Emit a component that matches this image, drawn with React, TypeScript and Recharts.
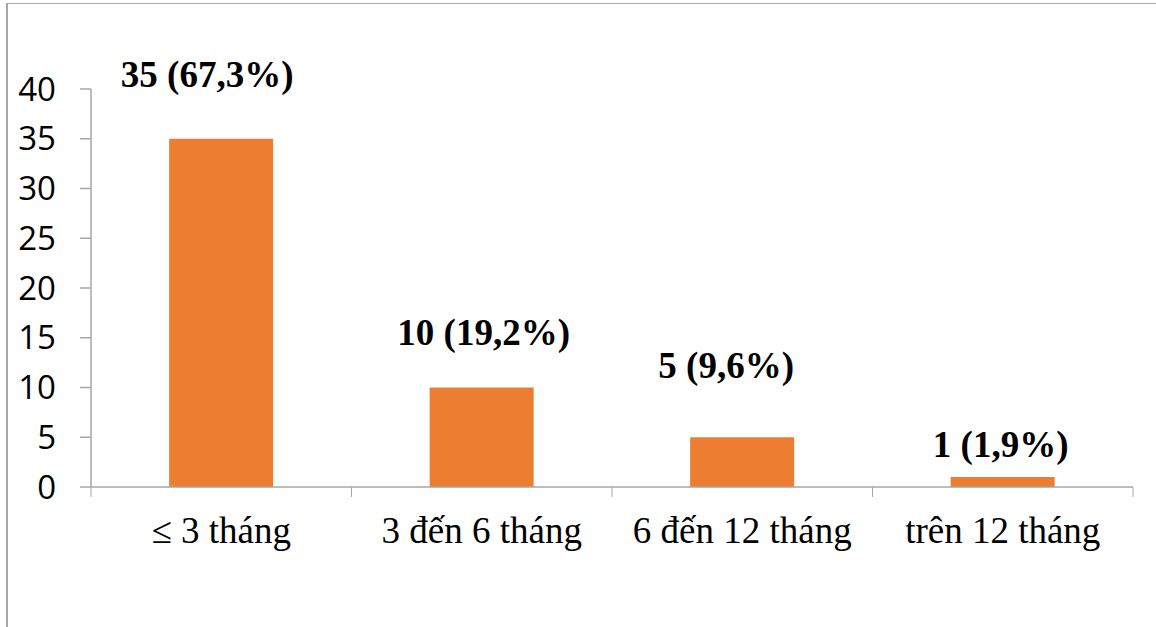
import React from "react";
import { BarChart, Bar, XAxis, YAxis, LabelList } from "recharts";

const categories = ["≤ 3 tháng", "3 đến 6 tháng", "6 đến 12 tháng", "trên 12 tháng"];
const counts = [35, 10, 5, 1];
const percents = ["67,3", "19,2", "9,6", "1,9"];
const yTicks = [0, 5, 10, 15, 20, 25, 30, 35, 40];

const data = categories.map((name, i) => ({ name, value: counts[i], pct: percents[i] }));

// label nudges relative to the computed bar top-centre (style only)
const LABEL_DX = [-14, 2, -16, -2];
const LABEL_GAP = [52, 43, 59, 20];

const AXIS = "#a6a6a6";

const XTick = (props: any) => {
  const { x, y, payload, index, visibleTicksCount, width } = props;
  const n = visibleTicksCount || categories.length;
  const band = (width || 1042) / n;
  const left = x - band / 2;
  const right = x + band / 2;
  return (
    <g>
      <line x1={left} y1={y} x2={left} y2={y + 10} stroke={AXIS} strokeWidth={1} />
      {index === n - 1 && (
        <line x1={right} y1={y} x2={right} y2={y + 10} stroke={AXIS} strokeWidth={1} />
      )}
      <text
        x={x}
        y={y + 56}
        textAnchor="middle"
        fontFamily="'Liberation Serif', 'Times New Roman', serif"
        fontSize={37}
        fill="#000"
      >
        {payload.value}
      </text>
    </g>
  );
};

const BarLabel = (props: any) => {
  const { x, y, width, index } = props;
  const d = data[index];
  return (
    <text
      x={x + width / 2 + LABEL_DX[index]}
      y={y - LABEL_GAP[index]}
      textAnchor="middle"
      fontFamily="'Liberation Serif', 'Times New Roman', serif"
      fontWeight="bold"
      fontSize={37}
      fill="#000"
    >
      {`${d.value} (${d.pct}%)`}
    </text>
  );
};

export default function App() {
  return (
    <div
      style={{
        position: "fixed",
        left: 0,
        top: 0,
        width: 1156,
        height: 627,
        overflow: "hidden",
        background: "#fff",
      }}
    >
      <div
        style={{
          position: "absolute",
          left: 6,
          top: 3,
          width: 1200,
          height: 700,
          borderLeft: `2px solid ${AXIS}`,
          borderTop: `1px solid ${AXIS}`,
        }}
      />
      <div style={{ position: "absolute", left: 0, top: 0 }}>
        <BarChart
          width={1156}
          height={627}
          data={data}
          margin={{ top: 89, right: 23, bottom: 80, left: 0 }}
          barCategoryGap="30%"
        >
          <XAxis
            dataKey="name"
            height={60}
            axisLine={{ stroke: AXIS, strokeWidth: 1.5 }}
            tickLine={false}
            tickSize={0}
            tickMargin={0}
            tick={<XTick />}
            interval={0}
          />
          <YAxis
            width={91}
            domain={[0, 40]}
            ticks={yTicks}
            interval={0}
            axisLine={{ stroke: AXIS, strokeWidth: 1.5 }}
            tickLine={{ stroke: AXIS, strokeWidth: 1.5 }}
            tickSize={11}
            tickMargin={24}
            tick={{ fontFamily: "'Open Sans', sans-serif", fontSize: 33, fill: "#000" }}
          />
          <Bar dataKey="value" fill="#ED7D31" isAnimationActive={false}>
            <LabelList dataKey="value" content={<BarLabel />} />
          </Bar>
        </BarChart>
      </div>
    </div>
  );
}
